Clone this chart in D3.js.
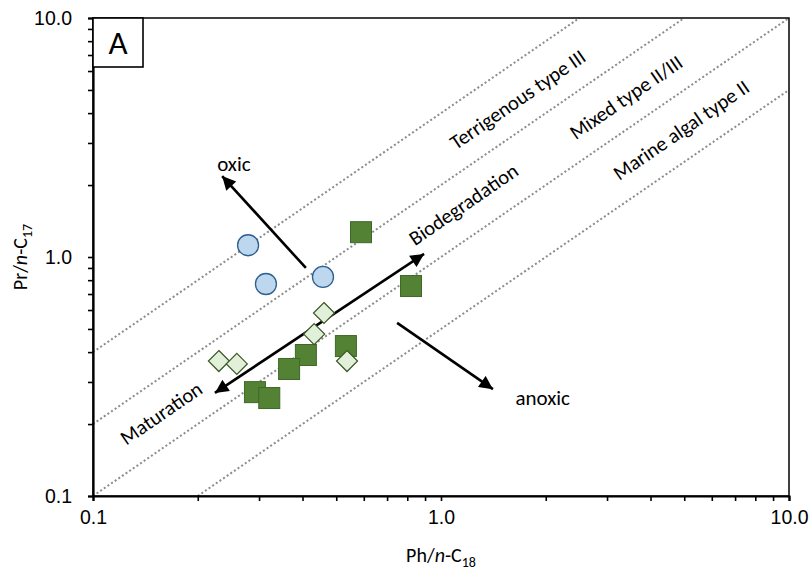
<!DOCTYPE html>
<html>
<head>
<meta charset="utf-8">
<script src="https://cdn.jsdelivr.net/npm/d3@7"></script>
<style>
html,body{margin:0;padding:0;background:#fff;}
svg{display:block;font-family:Carlito, Lato, "Open Sans", sans-serif;}
</style>
</head>
<body>
<svg id="chart" width="811" height="572"></svg>
<script>
// ---- data ----
const circlePh = [0.279, 0.314, 0.458];
const circlePr = [1.12, 0.771, 0.825];
const squarePh = [0.589, 0.820, 0.533, 0.409, 0.366, 0.292, 0.321];
const squarePr = [1.27, 0.756, 0.424, 0.389, 0.340, 0.272, 0.257];
const diamondPh = [0.461, 0.432, 0.230, 0.259, 0.537];
const diamondPr = [0.583, 0.476, 0.367, 0.357, 0.367];
const refRatios = [4, 2, 1, 0.5];
const tickValues = [0.1, 1, 10];
const tickLabels = ["0.1", "1.0", "10.0"];
const zoneLabels = ["Terrigenous type III", "Mixed type II/III", "Marine algal type II", "Biodegradation", "Maturation"];
const zoneLabelPh = [1.66, 3.40, 4.90, 1.16, 0.157];
const zoneLabelPr = [4.56, 4.66, 3.40, 1.66, 0.222];
const arrowNames = ["oxic", "bio", "anoxic"];
const arrowFromPh = [0.409, 0.224, 0.748];
const arrowFromPr = [0.90, 0.270, 0.530];
const arrowToPh = [0.235, 0.894, 1.41];
const arrowToPr = [2.18, 1.03, 0.280];
const arrowDouble = [false, true, false];
const envLabels = ["oxic", "anoxic"];
const envLabelPh = [0.254, 1.96];
const envLabelPr = [2.45, 0.257];

// ---- layout ----
const svg = d3.select("#chart");
const L = 93, R = 789, T = 18, B = 496;
const x = d3.scaleLog().domain([0.1, 10]).range([L, R]);
const y = d3.scaleLog().domain([0.1, 10]).range([B, T]);

svg.append("defs").append("marker")
  .attr("id", "ah").attr("viewBox", "0 0 10 10")
  .attr("refX", 10).attr("refY", 5)
  .attr("markerWidth", 6).attr("markerHeight", 5.2)
  .attr("markerUnits", "strokeWidth")
  .attr("orient", "auto-start-reverse")
  .append("path").attr("d", "M0,0 L10,5 L0,10 Z").attr("fill", "#000");

// reference dotted lines
refRatios.forEach(k => {
  const x0 = Math.max(0.1, 0.1 / k), x1 = Math.min(10, 10 / k);
  svg.append("line")
    .attr("x1", x(x0)).attr("y1", y(k * x0))
    .attr("x2", x(x1)).attr("y2", y(k * x1))
    .attr("stroke", "#8c8c8c").attr("stroke-width", 2)
    .attr("stroke-dasharray", "2,2.4");
});

// frame
svg.append("rect").attr("x", L).attr("y", T).attr("width", R - L).attr("height", B - T)
  .attr("fill", "none").attr("stroke", "#000").attr("stroke-width", 1.5);

// axes
const allTicks = d3.range(-1, 1).flatMap(e => d3.range(1, 10).map(m => m * Math.pow(10, e))).concat([10]);
const fmt = d => { const i = tickValues.findIndex(t => Math.abs(t - d) < 1e-9); return i >= 0 ? tickLabels[i] : ""; };
const xAxis = d3.axisBottom(x).tickSizeOuter(0).tickValues(allTicks).tickSize(5).tickFormat(fmt);
const gx = svg.append("g").attr("transform", `translate(0,${B})`).call(xAxis);
gx.select(".domain").attr("stroke-width", 2.2);
gx.selectAll(".tick line").attr("stroke-width", 1.6);
gx.selectAll(".tick text").attr("font-size", 19.5).attr("dy", "1.05em").attr("fill", "#000").attr("font-family", null);

const yAxis = d3.axisLeft(y).tickSizeOuter(0).tickValues(allTicks).tickSize(5).tickFormat(fmt);
const gy = svg.append("g").attr("transform", `translate(${L},0)`).call(yAxis);
gy.select(".domain").attr("stroke-width", 2.2);
gy.selectAll(".tick line").attr("stroke-width", 1.6);
gy.selectAll(".tick text").attr("font-size", 19.5).attr("x", -21).attr("fill", "#000").attr("font-family", null);

// axis titles
const xt = svg.append("text").attr("x", (L + R) / 2).attr("y", 562).attr("text-anchor", "middle").attr("font-size", 20);
xt.append("tspan").text("Ph/");
xt.append("tspan").attr("font-style", "italic").text("n");
xt.append("tspan").text("-C");
xt.append("tspan").attr("font-size", 14).attr("dy", 5).text("18");

const yt = svg.append("text").attr("transform", `translate(27,${y(1)}) rotate(-90)`).attr("text-anchor", "middle").attr("font-size", 20);
yt.append("tspan").text("Pr/");
yt.append("tspan").attr("font-style", "italic").text("n");
yt.append("tspan").text("-C");
yt.append("tspan").attr("font-size", 14).attr("dy", 5).text("17");

// zone labels
const ang = -Math.atan((y(1) - y(10)) / (x(10) - x(1))) * 180 / Math.PI;
zoneLabels.forEach((t, i) => {
  svg.append("text")
    .attr("transform", `translate(${x(zoneLabelPh[i])},${y(zoneLabelPr[i])}) rotate(${ang})`)
    .attr("text-anchor", "middle").attr("dominant-baseline", "central")
    .attr("font-size", 20.5).text(t);
});

// arrows
arrowNames.forEach((n, i) => {
  const ln = svg.append("line")
    .attr("x1", x(arrowFromPh[i])).attr("y1", y(arrowFromPr[i]))
    .attr("x2", x(arrowToPh[i])).attr("y2", y(arrowToPr[i]))
    .attr("stroke", "#000").attr("stroke-width", 2.6)
    .attr("marker-end", "url(#ah)");
  if (arrowDouble[i]) ln.attr("marker-start", "url(#ah)");
});
envLabels.forEach((t, i) => {
  svg.append("text").attr("x", x(envLabelPh[i])).attr("y", y(envLabelPr[i]))
    .attr("text-anchor", "middle").attr("dominant-baseline", "central")
    .attr("font-size", 21).text(t);
});

// markers
const sq = 21;
svg.append("g").selectAll("rect").data(d3.range(squarePh.length)).join("rect")
  .attr("x", i => x(squarePh[i]) - sq / 2).attr("y", i => y(squarePr[i]) - sq / 2)
  .attr("width", sq).attr("height", sq)
  .attr("fill", "#548235").attr("stroke", "#3f6827").attr("stroke-width", 1);

const dm = 10.5;
svg.append("g").selectAll("path").data(d3.range(diamondPh.length)).join("path")
  .attr("d", i => { const cx = x(diamondPh[i]), cy = y(diamondPr[i]);
    return `M${cx},${cy - dm}L${cx + dm},${cy}L${cx},${cy + dm}L${cx - dm},${cy}Z`; })
  .attr("fill", "#e2f0d9").attr("stroke", "#385723").attr("stroke-width", 1.2);

svg.append("g").selectAll("circle").data(d3.range(circlePh.length)).join("circle")
  .attr("cx", i => x(circlePh[i])).attr("cy", i => y(circlePr[i])).attr("r", 10.5)
  .attr("fill", "#bdd7ee").attr("stroke", "#2e5f8e").attr("stroke-width", 1.3);

// panel label box
svg.append("rect").attr("x", L).attr("y", T).attr("width", 50).attr("height", 49)
  .attr("fill", "#fff").attr("stroke", "#000").attr("stroke-width", 1.6);
svg.append("text").attr("x", L + 25).attr("y", T + 25).attr("text-anchor", "middle")
  .attr("dominant-baseline", "central").attr("font-size", 33).text("A");
</script>
</body>
</html>
